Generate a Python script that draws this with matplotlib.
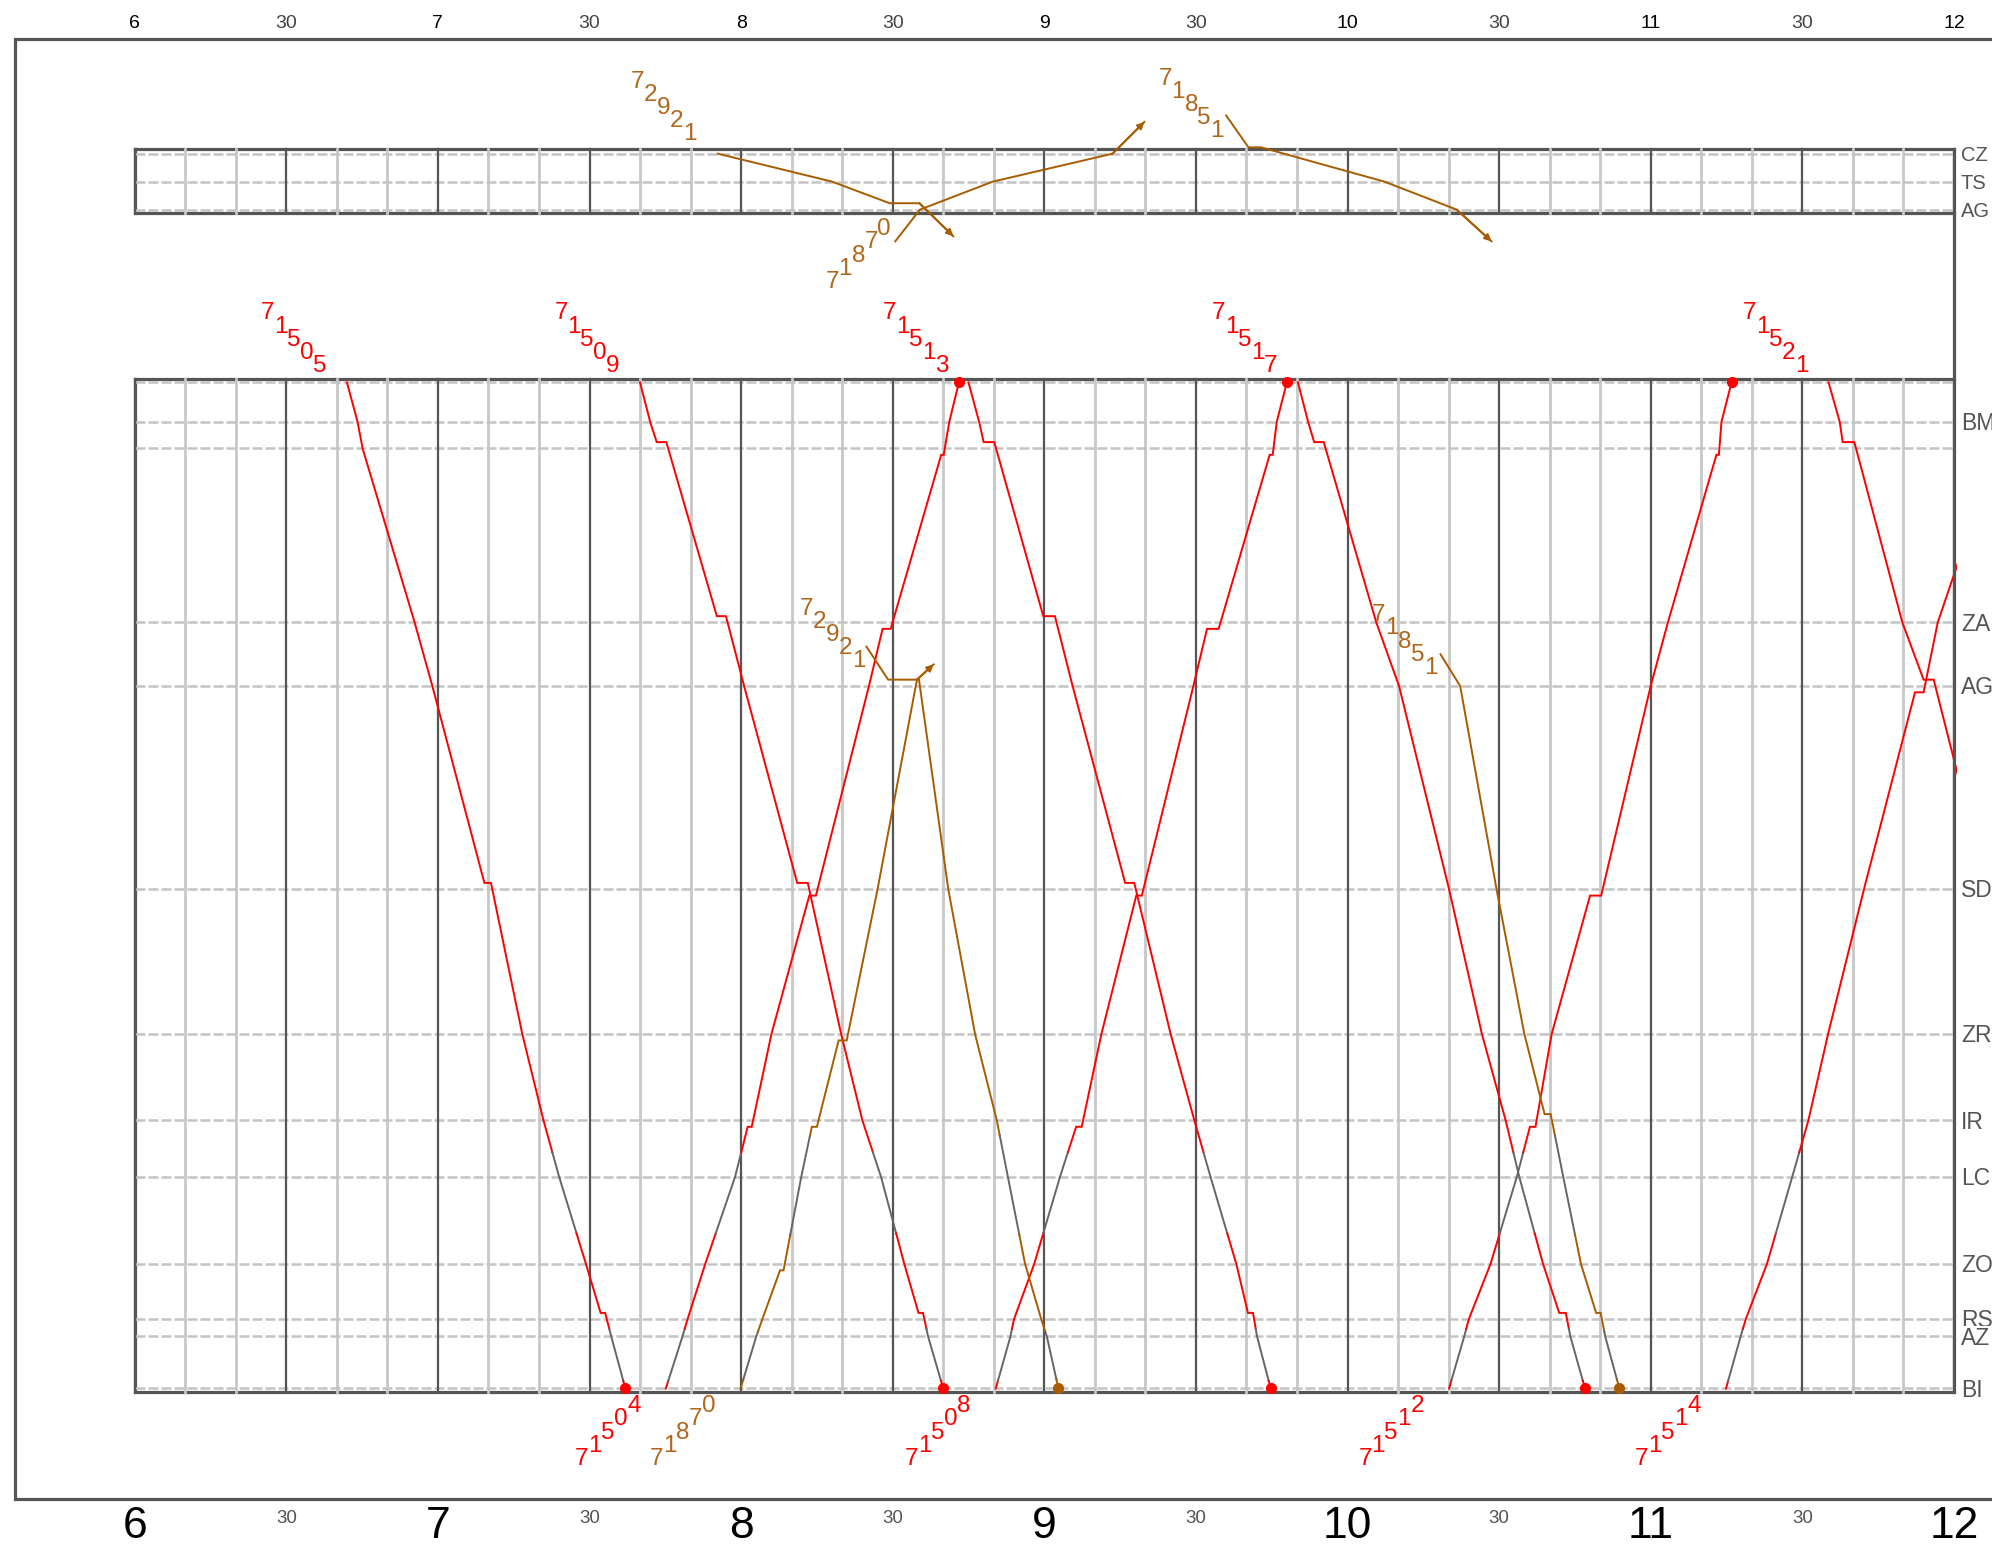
import matplotlib
matplotlib.use('Agg')
import matplotlib.pyplot as plt
from matplotlib import font_manager

_available = {f.name for f in font_manager.fontManager.ttflist}
NARROW = next((n for n in ['Liberation Sans Narrow', 'Arial Narrow', 'DejaVu Sans Condensed']
               if n in _available), 'Liberation Sans')
plt.rcParams['font.family'] = [NARROW, 'Liberation Sans', 'DejaVu Sans']
REGULAR = ['Liberation Sans', 'DejaVu Sans']

# ------------------------------------------------------------------ data
MAIN_STATIONS = ['BI', 'AZ', 'RS', 'ZO', 'LC', 'IR', 'ZR', 'SD', 'AG', 'ZA', 'X1', 'BM', 'X2']
MAIN_KM = [0.0, 4.1, 5.45, 9.8, 16.65, 21.1, 27.9, 39.3, 55.3, 60.3, 74.0, 76.1, 79.2]
MAIN_NAMES = ['BI', 'AZ', 'RS', 'ZO', 'LC', 'IR', 'ZR', 'SD', 'AG', 'ZA', '', 'BM', '']

STRIP_STATIONS = ['AG', 'TS', 'CZ']
STRIP_KM = [0.0, 2.2, 4.4]
STRIP_NAMES = ['AG', 'TS', 'CZ']

START_HOUR, END_HOUR = 6, 12

# sections drawn in grey (km ranges on the main line)
GREY_KM_RED = [(0.6, 4.7), (12.2, 18.6)]
GREY_KM_BROWN = [(0.7, 4.5), (12.1, 19.9)]

# schedules: (station or km, time) or (station, arrival, departure)
T_71505 = [('X2', '6:42.0'), ('BM', '6:44.1'), ('X1', '6:45.1'), ('ZA', '6:55.4'), ('AG', '6:58.9'),
           ('SD', '7:09.2', '7:10.5'), ('ZR', '7:16.7'), ('IR', '7:20.9'), ('LC', '7:24.0'),
           ('ZO', '7:29.3'), ('RS', '7:32.2', '7:33.1'), ('AZ', '7:34.3'), ('BI', '7:37.1')]
T_71509 = [('X2', '7:40.0'), ('BM', '7:42.0'), ('X1', '7:43.3', '7:45.2'), ('ZA', '7:55.2', '7:57.0'),
           ('AG', '8:00.6'), ('SD', '8:11.1', '8:13.2'), ('ZR', '8:19.8'), ('IR', '8:24.0'),
           ('LC', '8:27.7'), ('ZO', '8:32.3'), ('RS', '8:35.1', '8:36.0'), ('AZ', '8:37.0'), ('BI', '8:40.0')]
T_71513 = [('X2', '8:45.0'), ('BM', '8:47.1'), ('X1', '8:48.0', '8:50.1'), ('ZA', '8:59.8', '9:02.1'),
           ('AG', '9:05.6'), ('SD', '9:16.0', '9:17.8'), ('ZR', '9:25.0'), ('IR', '9:29.7'),
           ('LC', '9:32.9'), ('ZO', '9:38.0'), ('RS', '9:40.3', '9:41.3'), ('AZ', '9:42.1'), ('BI', '9:44.8')]
T_71517 = [('X2', '9:50.2'), ('BM', '9:52.2'), ('X1', '9:53.4', '9:55.3'), ('ZA', '10:05.7'),
           ('AG', '10:10.2'), ('SD', '10:20.1'), ('ZR', '10:26.6'), ('IR', '10:31.3'), ('LC', '10:34.0'),
           ('ZO', '10:38.7'), ('RS', '10:41.9', '10:43.2'), ('AZ', '10:44.1'), ('BI', '10:47.0')]
T_71521 = [('X2', '11:35.2'), ('BM', '11:37.4'), ('X1', '11:38.0', '11:40.3'), ('ZA', '11:49.8'),
           ('AG', '11:54.0', '11:56.0'), ('SD', '12:06.5')]

T_71504 = [('BI', '7:45.1'), ('AZ', '7:48.4'), ('RS', '7:49.4'), ('ZO', '7:52.9'), ('LC', '7:58.8'),
           ('IR', '8:01.3', '8:02.1'), ('ZR', '8:06.0'), ('SD', '8:13.5', '8:14.8'), ('AG', '8:25.3'),
           ('ZA', '8:28.0', '8:29.6'), ('X1', '8:39.6', '8:40.1'), ('BM', '8:41.2'), ('X2', '8:43.1')]
T_71508 = [('BI', '8:50.4'), ('AZ', '8:53.3'), ('RS', '8:54.0'), ('ZO', '8:58.0'), ('LC', '9:03.1'),
           ('IR', '9:06.3', '9:07.4'), ('ZR', '9:11.3'), ('SD', '9:18.2', '9:19.3'), ('AG', '9:29.5'),
           ('ZA', '9:32.2', '9:34.5'), ('X1', '9:44.6', '9:45.2'), ('BM', '9:46.0'), ('X2', '9:48.0')]
T_71512 = [('BI', '10:20.1'), ('AZ', '10:23.1'), ('RS', '10:24.0'), ('ZO', '10:28.3'), ('LC', '10:33.5'),
           ('IR', '10:36.1', '10:37.2'), ('ZR', '10:40.4'), ('SD', '10:48.0', '10:50.2'), ('AG', '11:00.0'),
           ('ZA', '11:03.4'), ('X1', '11:13.0', '11:13.5'), ('BM', '11:14.0'), ('X2', '11:16.0')]
T_71514 = [('BI', '11:14.9'), ('AZ', '11:17.8'), ('RS', '11:18.8'), ('ZO', '11:23.0'), ('LC', '11:28.0'),
           ('IR', '11:31.2'), ('ZR', '11:35.1'), ('SD', '11:42.2'), ('AG', '11:52.3', '11:54.0'),
           ('ZA', '11:56.8'), ('X1', '12:08.5')]

T_72921_STRIP = [('CZ', '7:55.4'), ('TS', '8:18.0'), ('AG', '8:29.4', '8:35.3'), (-2.1, '8:42.0')]
T_72921_MAIN = [(58.4, '8:24.8'), ('AG', '8:29.1', '8:35.2'), ('SD', '8:41.0'), ('ZR', '8:46.3'),
                ('IR', '8:50.6'), ('LC', '8:52.8'), ('ZO', '8:56.2'), ('RS', '8:59.4'), ('AZ', '9:00.5'),
                ('BI', '9:02.8')]
T_71870_MAIN = [('BI', '7:59.9'), ('AZ', '8:03.0'), ('RS', '8:04.2'), ('ZO', '8:07.7', '8:08.4'),
                ('LC', '8:11.9'), ('IR', '8:14.0', '8:15.0'), ('ZR', '8:19.3', '8:20.9'), ('SD', '8:27.0'),
                (55.8, '8:34.8'), (57.0, '8:38.1')]
T_71870_STRIP = [(-2.5, '8:30.5'), ('AG', '8:35.4'), ('TS', '8:49.8'), ('CZ', '9:13.5'), (6.9, '9:19.8')]
T_71851_STRIP = [(7.4, '9:36.0'), ('CZ', '9:40.4', '9:42.9'), ('TS', '10:07.3'), ('AG', '10:21.6'),
                 (-2.5, '10:28.5')]
T_71851_MAIN = [(57.8, '10:18.4'), ('AG', '10:22.3'), ('SD', '10:29.5'), ('ZR', '10:35.0'),
                ('IR', '10:39.0', '10:40.2'), ('LC', '10:42.7'), ('ZO', '10:46.2'),
                ('RS', '10:49.2', '10:50.1'), ('AZ', '10:51.0'), ('BI', '10:53.8')]

# (number, panel, kind, schedule, end marker)
TRAINS = [
    ('71505', 'main', 'red', T_71505, 'dot'),
    ('71509', 'main', 'red', T_71509, 'dot'),
    ('71513', 'main', 'red', T_71513, 'dot'),
    ('71517', 'main', 'red', T_71517, 'dot'),
    ('71521', 'main', 'red', T_71521, None),
    ('71504', 'main', 'red', T_71504, 'dot'),
    ('71508', 'main', 'red', T_71508, 'dot'),
    ('71512', 'main', 'red', T_71512, 'dot'),
    ('71514', 'main', 'red', T_71514, None),
    ('72921', 'strip', 'brown', T_72921_STRIP, 'arrow'),
    ('72921', 'main', 'brown', T_72921_MAIN, 'dot'),
    ('71870', 'main', 'brown', T_71870_MAIN, 'arrow'),
    ('71870', 'strip', 'brown', T_71870_STRIP, 'arrow'),
    ('71851', 'strip', 'brown', T_71851_STRIP, 'arrow'),
    ('71851', 'main', 'brown', T_71851_MAIN, 'dot'),
]

# ------------------------------------------------------------------ layout / style
W, H, DPI = 1992, 1544, 100
X6, PXH = 134.7, 303.2            # pixel x of 6:00, pixels per hour
MAIN_Y = (378.6, 1392.3)
STRIP_Y = (148.6, 213.4)
MAIN_YLIM = (-0.3, 79.5)
STRIP_YLIM = (-0.3, 4.8)
CLIP_RIGHT_PX = 1957
STOP_SHIFT = 0.5

RED = '#ff0000'
BROWN = '#a85c00'
BROWN_TXT = '#b0671c'
GREY_SEG = '#666666'
GRID_LIGHT = '#c8c8c8'
GRID_DARK = '#555555'
STATION_LINE = '#c4c4c4'
BORDER = '#555555'
NAME_COL = '#555555'
TRAIN_LW = 1.4

LABEL_OFF = {
    ('71505', 'main'): (-27, 19), ('71509', 'main'): (-27, 19), ('71513', 'main'): (-27, 19),
    ('71517', 'main'): (-27, 19), ('71521', 'main'): (-27, 19),
    ('71504', 'main'): (-32, -15), ('71508', 'main'): (-32, -15), ('71512', 'main'): (-32, -15),
    ('71514', 'main'): (-32, -15), ('71870', 'main'): (-32, -15),
    ('72921', 'strip'): (-28, 22), ('72921', 'main'): (-8, -12),
    ('71870', 'strip'): (-11, 15), ('71851', 'strip'): (-9, -13), ('71851', 'main'): (-10, -11),
}
SX, SY = 13, 13.2
LABEL_FS = 17.5
MAIN_NAME_FS = 16.5
STRIP_NAME_FS = 14.5
TOP_FS = 14
BIG_FS = 32
SMALL_FS = 13.5


def hrs(s):
    h, m = s.split(':')
    return int(h) + float(m) / 60.0


def px2h(px):
    return START_HOUR + (px - X6) / PXH


fig = plt.figure(figsize=(W / DPI, H / DPI), dpi=DPI)
t_right = px2h(CLIP_RIGHT_PX)


def make_axes(ypx, ylim):
    ax = fig.add_axes([X6 / W, 1 - ypx[1] / H, (CLIP_RIGHT_PX - X6) / W, (ypx[1] - ypx[0]) / H])
    ax.set_xlim(START_HOUR, t_right)
    ax.set_ylim(*ylim)
    ax.set_axis_off()
    return ax


ax_strip = make_axes(STRIP_Y, STRIP_YLIM)
ax_main = make_axes(MAIN_Y, MAIN_YLIM)

panels = {
    'main': (ax_main, dict(zip(MAIN_STATIONS, MAIN_KM)), MAIN_YLIM),
    'strip': (ax_strip, dict(zip(STRIP_STATIONS, STRIP_KM)), STRIP_YLIM),
}

# ---------------- grid
for ax, kms, names, ylim, fs in [(ax_main, MAIN_KM, MAIN_NAMES, MAIN_YLIM, MAIN_NAME_FS),
                                 (ax_strip, STRIP_KM, STRIP_NAMES, STRIP_YLIM, STRIP_NAME_FS)]:
    for y in ylim:
        ax.plot([START_HOUR, END_HOUR], [y, y], color=BORDER, lw=2.3, zorder=1.2,
                solid_capstyle='projecting', clip_on=False)
    ax.plot([START_HOUR, START_HOUR], ylim, color=BORDER, lw=2.3, zorder=1.2, clip_on=False)
    for m in range(0, (END_HOUR - START_HOUR) * 60 + 1, 10):
        t = START_HOUR + m / 60.0
        if m % 30 == 0:
            ax.plot([t, t], ylim, color=GRID_DARK, lw=1.6, zorder=1.9, clip_on=False)
        else:
            ax.plot([t, t], ylim, color=GRID_LIGHT, lw=2.0, zorder=1.5, clip_on=False)
    for k in kms:
        ax.plot([START_HOUR, END_HOUR], [k, k], color=STATION_LINE, lw=1.8,
                ls=(0, (4, 1.2)), zorder=1.7)
    order = sorted(range(len(kms)), key=lambda i: -kms[i])
    cap = fs * DPI / 72 * 0.716
    for i in order:
        if names[i]:
            ax.annotate(names[i], xy=(END_HOUR, kms[i]), xytext=(7, -cap / 2),
                        textcoords='offset pixels', ha='left', va='baseline', fontsize=fs,
                        family=REGULAR, color=NAME_COL, annotation_clip=False, zorder=3,
                        bbox=dict(facecolor='white', edgecolor='none', pad=0.5))


# ---------------- trains
def build_points(sched, kmap):
    def km_of(s):
        return kmap[s] if isinstance(s, str) else float(s)
    k_first, k_last = km_of(sched[0][0]), km_of(sched[-1][0])
    direction = 1 if k_last > k_first else -1
    pts = []
    for e in sched:
        k = km_of(e[0])
        if len(e) == 3:
            ks = k - direction * STOP_SHIFT
            pts.append((hrs(e[1]), ks))
            pts.append((hrs(e[2]), ks))
        else:
            pts.append((hrs(e[1]), k))
    return pts, direction


def colored_runs(pts, base, grey_ivs):
    bounds = sorted(b for iv in grey_ivs for b in iv)
    runs = []
    for (t0, k0), (t1, k1) in zip(pts[:-1], pts[1:]):
        cuts = [0.0, 1.0]
        if k1 != k0:
            for b in bounds:
                f = (b - k0) / (k1 - k0)
                if 0 < f < 1:
                    cuts.append(f)
        cuts.sort()
        for a, b in zip(cuts[:-1], cuts[1:]):
            p = (t0 + a * (t1 - t0), k0 + a * (k1 - k0))
            q = (t0 + b * (t1 - t0), k0 + b * (k1 - k0))
            mid = 0.5 * (p[1] + q[1])
            col = GREY_SEG if any(lo < mid < hi for lo, hi in grey_ivs) else base
            if runs and runs[-1][0] == col:
                runs[-1][1].append(q)
            else:
                runs.append([col, [p, q]])
    return runs


for num, panel, kind, sched, end in TRAINS:
    ax, kmap, _ = panels[panel]
    color = RED if kind == 'red' else BROWN
    tcol = RED if kind == 'red' else BROWN_TXT
    pts, direction = build_points(sched, kmap)
    grey = (GREY_KM_RED if kind == 'red' else GREY_KM_BROWN) if panel == 'main' else []
    clip = panel == 'main'
    for col, seg in colored_runs(pts, color, grey):
        ax.plot([p[0] for p in seg], [p[1] for p in seg], color=col, lw=TRAIN_LW, zorder=5,
                solid_joinstyle='miter', clip_on=clip)
    if end == 'dot':
        ax.plot(pts[-1][0], pts[-1][1], 'o', ms=7, color=color, zorder=6, clip_on=False)
    elif end == 'arrow':
        ax.annotate('', xy=pts[-1], xytext=pts[-2], annotation_clip=False, zorder=6,
                    arrowprops=dict(arrowstyle='-|>', color=color, lw=TRAIN_LW, shrinkA=0,
                                    shrinkB=0, mutation_scale=10))
    # staircase train number
    dx, dy = LABEL_OFF[(num, panel)]
    n = len(num)
    half = LABEL_FS * DPI / 72 * 0.72 / 2
    for i, ch in enumerate(num):
        j = n - 1 - i
        ox = dx - j * SX
        oy = (dy - j * SY) if direction > 0 else (dy + j * SY)
        ax.annotate(ch, xy=pts[0], xytext=(ox, oy - half), textcoords='offset pixels',
                    ha='center', va='baseline', fontsize=LABEL_FS, color=tcol,
                    annotation_clip=False, zorder=7)

# ---------------- overlay: frame, hour labels, right border
ax_ov = fig.add_axes([0, 0, 1, 1])
ax_ov.set_xlim(px2h(0), px2h(W))
ax_ov.set_ylim(H, 0)
ax_ov.set_axis_off()
FRAME = (15, 39, 1499)
ax_ov.plot([px2h(W + 20), px2h(FRAME[0]), px2h(FRAME[0]), px2h(W + 20)],
           [FRAME[1], FRAME[1], FRAME[2], FRAME[2]], color=BORDER, lw=2.3,
           solid_joinstyle='miter')
ax_ov.plot([END_HOUR, END_HOUR], [STRIP_Y[0], MAIN_Y[1]], color=BORDER, lw=2.3,
           solid_capstyle='projecting')

for m in range(0, (END_HOUR - START_HOUR) * 60 + 1, 30):
    t = START_HOUR + m / 60.0
    if m % 60 == 0:
        lab = str(START_HOUR + m // 60)
        ax_ov.text(t, 28.5, lab, ha='center', va='baseline', fontsize=TOP_FS, color='black')
        ax_ov.text(t, 1538, lab, ha='center', va='baseline', fontsize=BIG_FS, color='black')
    else:
        ax_ov.text(t, 28.5, '30', ha='center', va='baseline', fontsize=TOP_FS, color='#444444')
        ax_ov.text(t, 1523, '30', ha='center', va='baseline', fontsize=SMALL_FS, color='#555555')

fig.savefig('out.png', dpi=DPI)
